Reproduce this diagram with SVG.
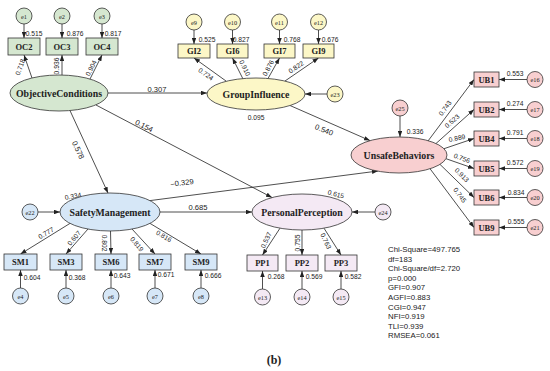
<svg xmlns="http://www.w3.org/2000/svg" width="550" height="371" viewBox="0 0 550 371">
<defs>
<marker id="ah" viewBox="0 0 8 6" refX="8" refY="3" markerWidth="6" markerHeight="4.5" markerUnits="userSpaceOnUse" orient="auto"><path d="M0,0 L8,3 L0,6 z" fill="#222"/></marker>
<style>
.s{stroke:#333;stroke-width:0.8}
.g{fill:#d5e7d0}.y{fill:#fcf7c7}.p{fill:#f8cfd0}.b{fill:#d6e7f7}.v{fill:#f4e9f4}
.nl{font-family:"Liberation Serif",serif;font-weight:bold;font-size:9.8px;text-anchor:middle;dominant-baseline:central;fill:#222}
.bl{font-family:"Liberation Serif",serif;font-weight:bold;font-size:8.5px;text-anchor:middle;dominant-baseline:central;fill:#222}
.el{font-family:"Liberation Serif",serif;font-size:6.3px;text-anchor:middle;dominant-baseline:central;fill:#222}
.n{font-family:"Liberation Sans",sans-serif;font-size:6.7px;text-anchor:middle;dominant-baseline:central;fill:#222}
.n2{font-family:"Liberation Sans",sans-serif;font-size:7.6px;text-anchor:middle;dominant-baseline:central;fill:#222}
.c{stroke:#222;stroke-width:0.8;fill:none;marker-end:url(#ah)}
.st{font-family:"Liberation Sans",sans-serif;font-size:7.8px;fill:#222}
.cap{font-family:"Liberation Serif",serif;font-weight:bold;font-size:12px;text-anchor:middle;fill:#222}
</style>
</defs>
<rect width="550" height="371" fill="#fff"/>

<g id="connectors">
<!-- error arrows -->
<line class="c" x1="24" y1="24" x2="24" y2="38"/>
<line class="c" x1="62" y1="24" x2="62" y2="38"/>
<line class="c" x1="102" y1="24" x2="102" y2="38"/>
<line class="c" x1="194" y1="30" x2="194" y2="44"/>
<line class="c" x1="232.5" y1="30" x2="232.5" y2="44"/>
<line class="c" x1="279.5" y1="30" x2="279.5" y2="44"/>
<line class="c" x1="318.5" y1="30" x2="318.5" y2="44"/>
<line class="c" x1="327" y1="94" x2="305" y2="94"/>
<line class="c" x1="400" y1="116" x2="400" y2="137"/>
<line class="c" x1="527" y1="79.5" x2="499" y2="79.5"/>
<line class="c" x1="527" y1="109.5" x2="499" y2="109.5"/>
<line class="c" x1="527" y1="138.5" x2="499" y2="138.5"/>
<line class="c" x1="527" y1="168.5" x2="499" y2="168.5"/>
<line class="c" x1="527" y1="197.5" x2="499" y2="197.5"/>
<line class="c" x1="527" y1="227.5" x2="499" y2="227.5"/>
<line class="c" x1="38" y1="212" x2="60" y2="212"/>
<line class="c" x1="20.5" y1="288" x2="20.5" y2="270"/>
<line class="c" x1="66" y1="288" x2="66" y2="270"/>
<line class="c" x1="111" y1="288" x2="111" y2="270"/>
<line class="c" x1="155" y1="288" x2="155" y2="270"/>
<line class="c" x1="201" y1="288" x2="201" y2="270"/>
<line class="c" x1="375" y1="212" x2="352" y2="212"/>
<line class="c" x1="262.5" y1="289" x2="262.5" y2="271"/>
<line class="c" x1="302" y1="289" x2="302" y2="271"/>
<line class="c" x1="341" y1="289" x2="341" y2="271"/>
<!-- loadings -->
<line class="c" x1="32" y1="78" x2="24" y2="55"/>
<line class="c" x1="62" y1="75" x2="62" y2="55"/>
<line class="c" x1="90" y1="79" x2="102" y2="55"/>
<line class="c" x1="226" y1="81" x2="194" y2="58"/>
<line class="c" x1="243" y1="79" x2="232.5" y2="58"/>
<line class="c" x1="268" y1="78.5" x2="279.5" y2="58"/>
<line class="c" x1="285" y1="81" x2="318.5" y2="58"/>
<line class="c" x1="428" y1="141" x2="474" y2="79.5"/>
<line class="c" x1="436" y1="143.5" x2="474" y2="109.5"/>
<line class="c" x1="444" y1="148.7" x2="474" y2="138.5"/>
<line class="c" x1="446" y1="158.7" x2="474" y2="168.5"/>
<line class="c" x1="440" y1="164.4" x2="474" y2="197.5"/>
<line class="c" x1="430" y1="168.7" x2="474" y2="227.5"/>
<line class="c" x1="70" y1="223.4" x2="20.5" y2="254"/>
<line class="c" x1="88" y1="229" x2="66" y2="254"/>
<line class="c" x1="110.5" y1="231" x2="111" y2="254"/>
<line class="c" x1="132" y1="229" x2="155" y2="254"/>
<line class="c" x1="150" y1="223.4" x2="201" y2="254"/>
<line class="c" x1="280" y1="228.2" x2="262.5" y2="255"/>
<line class="c" x1="302" y1="230" x2="302" y2="255"/>
<line class="c" x1="324" y1="228.2" x2="341" y2="255"/>
<!-- structural -->
<line class="c" x1="108" y1="93" x2="207" y2="93"/>
<line class="c" x1="70" y1="110.6" x2="108" y2="193"/>
<line class="c" x1="96" y1="105" x2="272" y2="197.5"/>
<line class="c" x1="290" y1="105.5" x2="370" y2="140.6"/>
<line class="c" x1="150" y1="200.6" x2="378" y2="171"/>
<line class="c" x1="160" y1="212" x2="252" y2="212"/>
</g>

<g id="edge-labels">
<text class="n" x="34" y="33">0.515</text>
<text class="n" x="75" y="33">0.876</text>
<text class="n" x="113" y="33">0.817</text>
<text class="n" transform="translate(20,67) rotate(-70)">0.718</text>
<text class="n" transform="translate(56,66) rotate(-90)">0.936</text>
<text class="n" transform="translate(91,68) rotate(-64)">0.904</text>
<text class="n" x="207" y="39">0.525</text>
<text class="n" x="241" y="39">0.827</text>
<text class="n" x="292" y="39">0.768</text>
<text class="n" x="330" y="39">0.676</text>
<text class="n" transform="translate(206,74) rotate(35)">0.724</text>
<text class="n" transform="translate(245,68) rotate(64)">0.910</text>
<text class="n" transform="translate(268,68) rotate(-62)">0.876</text>
<text class="n" transform="translate(296,67) rotate(-34)">0.822</text>
<text class="n" x="256" y="117">0.095</text>
<text class="n2" x="157" y="89">0.307</text>
<text class="n2" transform="translate(78,150) rotate(65)">0.578</text>
<text class="n2" transform="translate(144,126) rotate(27)">0.154</text>
<text class="n2" transform="translate(324,130) rotate(22)">0.540</text>
<text class="n2" transform="translate(182,183) rotate(-7)">−0.329</text>
<text class="n2" x="198" y="207">0.685</text>
<text class="n" x="415" y="131">0.336</text>
<text class="n" x="515" y="73">0.553</text>
<text class="n" x="515" y="103">0.274</text>
<text class="n" x="515" y="132">0.791</text>
<text class="n" x="515" y="162">0.572</text>
<text class="n" x="516" y="192">0.834</text>
<text class="n" x="516" y="221">0.555</text>
<text class="n" transform="translate(445,108) rotate(-54)">0.743</text>
<text class="n" transform="translate(452,121) rotate(-41)">0.523</text>
<text class="n" transform="translate(457,138) rotate(-12)">0.889</text>
<text class="n" transform="translate(462,158) rotate(20)">0.756</text>
<text class="n" transform="translate(462,175) rotate(45)">0.913</text>
<text class="n" transform="translate(460,195) rotate(54)">0.745</text>
<text class="n" transform="translate(73,196) rotate(-10)">0.334</text>
<text class="n" transform="translate(46,233) rotate(-30)">0.777</text>
<text class="n" transform="translate(74,238) rotate(-50)">0.607</text>
<text class="n" transform="translate(104,243) rotate(90)">0.802</text>
<text class="n" transform="translate(137,244) rotate(50)">0.819</text>
<text class="n" transform="translate(164,236) rotate(30)">0.816</text>
<text class="n" x="32" y="277">0.604</text>
<text class="n" x="77" y="277">0.368</text>
<text class="n" x="122" y="275">0.643</text>
<text class="n" x="166" y="274">0.671</text>
<text class="n" x="213" y="275">0.666</text>
<text class="n" transform="translate(336,194) rotate(15)">0.615</text>
<text class="n" transform="translate(266,240) rotate(-65)">0.537</text>
<text class="n" transform="translate(297,243) rotate(-90)">0.755</text>
<text class="n" transform="translate(326,241) rotate(65)">0.763</text>
<text class="n" x="276" y="276">0.268</text>
<text class="n" x="314" y="276">0.569</text>
<text class="n" x="353" y="276">0.582</text>
</g>

<!-- Objective Conditions -->
<g id="ObjectiveConditions"><ellipse class="s g" cx="59" cy="93" rx="49" ry="18"/><text class="nl" x="59" y="93">ObjectiveConditions</text></g>
<g id="OC2"><rect class="s g" x="8" y="38" width="32" height="17"/><text class="bl" x="24" y="46.5">OC2</text></g>
<g id="OC3"><rect class="s g" x="46" y="38" width="32" height="17"/><text class="bl" x="62" y="46.5">OC3</text></g>
<g id="OC4"><rect class="s g" x="86" y="38" width="32" height="17"/><text class="bl" x="102" y="46.5">OC4</text></g>
<g id="e1"><circle class="s g" cx="24" cy="16" r="8"/><text class="el" x="24" y="16">e1</text></g>
<g id="e2"><circle class="s g" cx="62" cy="16" r="8"/><text class="el" x="62" y="16">e2</text></g>
<g id="e3"><circle class="s g" cx="102" cy="16" r="8"/><text class="el" x="102" y="16">e3</text></g>

<!-- Group Influence -->
<g id="GroupInfluence"><ellipse class="s y" cx="256" cy="94" rx="49" ry="16"/><text class="nl" x="256" y="94">GroupInfluence</text></g>
<g id="GI2"><rect class="s y" x="178" y="44" width="32" height="14"/><text class="bl" x="194" y="51">GI2</text></g>
<g id="GI6"><rect class="s y" x="217" y="44" width="31" height="14"/><text class="bl" x="232.5" y="51">GI6</text></g>
<g id="GI7"><rect class="s y" x="264" y="44" width="31" height="14"/><text class="bl" x="279.5" y="51">GI7</text></g>
<g id="GI9"><rect class="s y" x="303" y="44" width="31" height="14"/><text class="bl" x="318.5" y="51">GI9</text></g>
<g id="e9"><circle class="s y" cx="194" cy="22" r="8"/><text class="el" x="194" y="22">e9</text></g>
<g id="e10"><circle class="s y" cx="232.5" cy="22" r="8"/><text class="el" x="232.5" y="22">e10</text></g>
<g id="e11"><circle class="s y" cx="279.5" cy="22" r="8"/><text class="el" x="279.5" y="22">e11</text></g>
<g id="e12"><circle class="s y" cx="318.5" cy="22" r="8"/><text class="el" x="318.5" y="22">e12</text></g>
<g id="e23"><circle class="s y" cx="335" cy="94" r="8"/><text class="el" x="335" y="94">e23</text></g>

<!-- Unsafe Behaviors -->
<g id="UnsafeBehaviors"><ellipse class="s p" cx="399" cy="155" rx="48" ry="18"/><text class="nl" x="399" y="155">UnsafeBehaviors</text></g>
<g id="e25"><circle class="s p" cx="400" cy="108" r="8"/><text class="el" x="400" y="108">e25</text></g>
<g id="UB1"><rect class="s p" x="474" y="72" width="25" height="15"/><text class="bl" x="486.5" y="79.5">UB1</text></g>
<g id="UB2"><rect class="s p" x="474" y="102" width="25" height="15"/><text class="bl" x="486.5" y="109.5">UB2</text></g>
<g id="UB4"><rect class="s p" x="474" y="131" width="25" height="15"/><text class="bl" x="486.5" y="138.5">UB4</text></g>
<g id="UB5"><rect class="s p" x="474" y="161" width="25" height="15"/><text class="bl" x="486.5" y="168.5">UB5</text></g>
<g id="UB6"><rect class="s p" x="474" y="190" width="25" height="15"/><text class="bl" x="486.5" y="197.5">UB6</text></g>
<g id="UB9"><rect class="s p" x="474" y="220" width="25" height="15"/><text class="bl" x="486.5" y="227.5">UB9</text></g>
<g id="e16"><circle class="s p" cx="535" cy="79.5" r="8"/><text class="el" x="535" y="79.5">e16</text></g>
<g id="e17"><circle class="s p" cx="535" cy="109.5" r="8"/><text class="el" x="535" y="109.5">e17</text></g>
<g id="e18"><circle class="s p" cx="535" cy="138.5" r="8"/><text class="el" x="535" y="138.5">e18</text></g>
<g id="e19"><circle class="s p" cx="535" cy="168.5" r="8"/><text class="el" x="535" y="168.5">e19</text></g>
<g id="e20"><circle class="s p" cx="535" cy="197.5" r="8"/><text class="el" x="535" y="197.5">e20</text></g>
<g id="e21"><circle class="s p" cx="535" cy="227.5" r="8"/><text class="el" x="535" y="227.5">e21</text></g>

<!-- Safety Management -->
<g id="SafetyManagement"><ellipse class="s b" cx="110" cy="212" rx="50" ry="19"/><text class="nl" x="110" y="212">SafetyManagement</text></g>
<g id="e22"><circle class="s b" cx="30" cy="212" r="8"/><text class="el" x="30" y="212">e22</text></g>
<g id="SM1"><rect class="s b" x="4" y="254" width="33" height="16"/><text class="bl" x="20.5" y="262">SM1</text></g>
<g id="SM3"><rect class="s b" x="50" y="254" width="32" height="16"/><text class="bl" x="66" y="262">SM3</text></g>
<g id="SM6"><rect class="s b" x="95" y="254" width="32" height="16"/><text class="bl" x="111" y="262">SM6</text></g>
<g id="SM7"><rect class="s b" x="139" y="254" width="32" height="16"/><text class="bl" x="155" y="262">SM7</text></g>
<g id="SM9"><rect class="s b" x="185" y="254" width="32" height="16"/><text class="bl" x="201" y="262">SM9</text></g>
<g id="e4"><circle class="s b" cx="20.5" cy="296" r="8"/><text class="el" x="20.5" y="296">e4</text></g>
<g id="e5"><circle class="s b" cx="66" cy="296" r="8"/><text class="el" x="66" y="296">e5</text></g>
<g id="e6"><circle class="s b" cx="111" cy="296" r="8"/><text class="el" x="111" y="296">e6</text></g>
<g id="e7"><circle class="s b" cx="155" cy="296" r="8"/><text class="el" x="155" y="296">e7</text></g>
<g id="e8"><circle class="s b" cx="201" cy="296" r="8"/><text class="el" x="201" y="296">e8</text></g>

<!-- Personal Perception -->
<g id="PersonalPerception"><ellipse class="s v" cx="302" cy="212" rx="50" ry="18"/><text class="nl" x="302" y="212">PersonalPerception</text></g>
<g id="e24"><circle class="s v" cx="383" cy="212" r="8"/><text class="el" x="383" y="212">e24</text></g>
<g id="PP1"><rect class="s v" x="247" y="255" width="31" height="16"/><text class="bl" x="262.5" y="263">PP1</text></g>
<g id="PP2"><rect class="s v" x="286" y="255" width="32" height="16"/><text class="bl" x="302" y="263">PP2</text></g>
<g id="PP3"><rect class="s v" x="325" y="255" width="32" height="16"/><text class="bl" x="341" y="263">PP3</text></g>
<g id="e13"><circle class="s v" cx="262.5" cy="297" r="8"/><text class="el" x="262.5" y="297">e13</text></g>
<g id="e14"><circle class="s v" cx="302" cy="297" r="8"/><text class="el" x="302" y="297">e14</text></g>
<g id="e15"><circle class="s v" cx="341" cy="297" r="8"/><text class="el" x="341" y="297">e15</text></g>

<g id="fit-stats">
<text class="st" x="388" y="252">Chi-Square=497.765</text>
<text class="st" x="388" y="261.6">df=183</text>
<text class="st" x="388" y="271.2">Chi-Square/df=2.720</text>
<text class="st" x="388" y="280.8">p=0.000</text>
<text class="st" x="388" y="290.4">GFI=0.907</text>
<text class="st" x="388" y="300">AGFI=0.883</text>
<text class="st" x="388" y="309.6">CGI=0.947</text>
<text class="st" x="388" y="319.2">NFI=0.919</text>
<text class="st" x="388" y="328.8">TLI=0.939</text>
<text class="st" x="388" y="338.4">RMSEA=0.061</text>
</g>
<text class="cap" x="274" y="364">(b)</text>
</svg>
